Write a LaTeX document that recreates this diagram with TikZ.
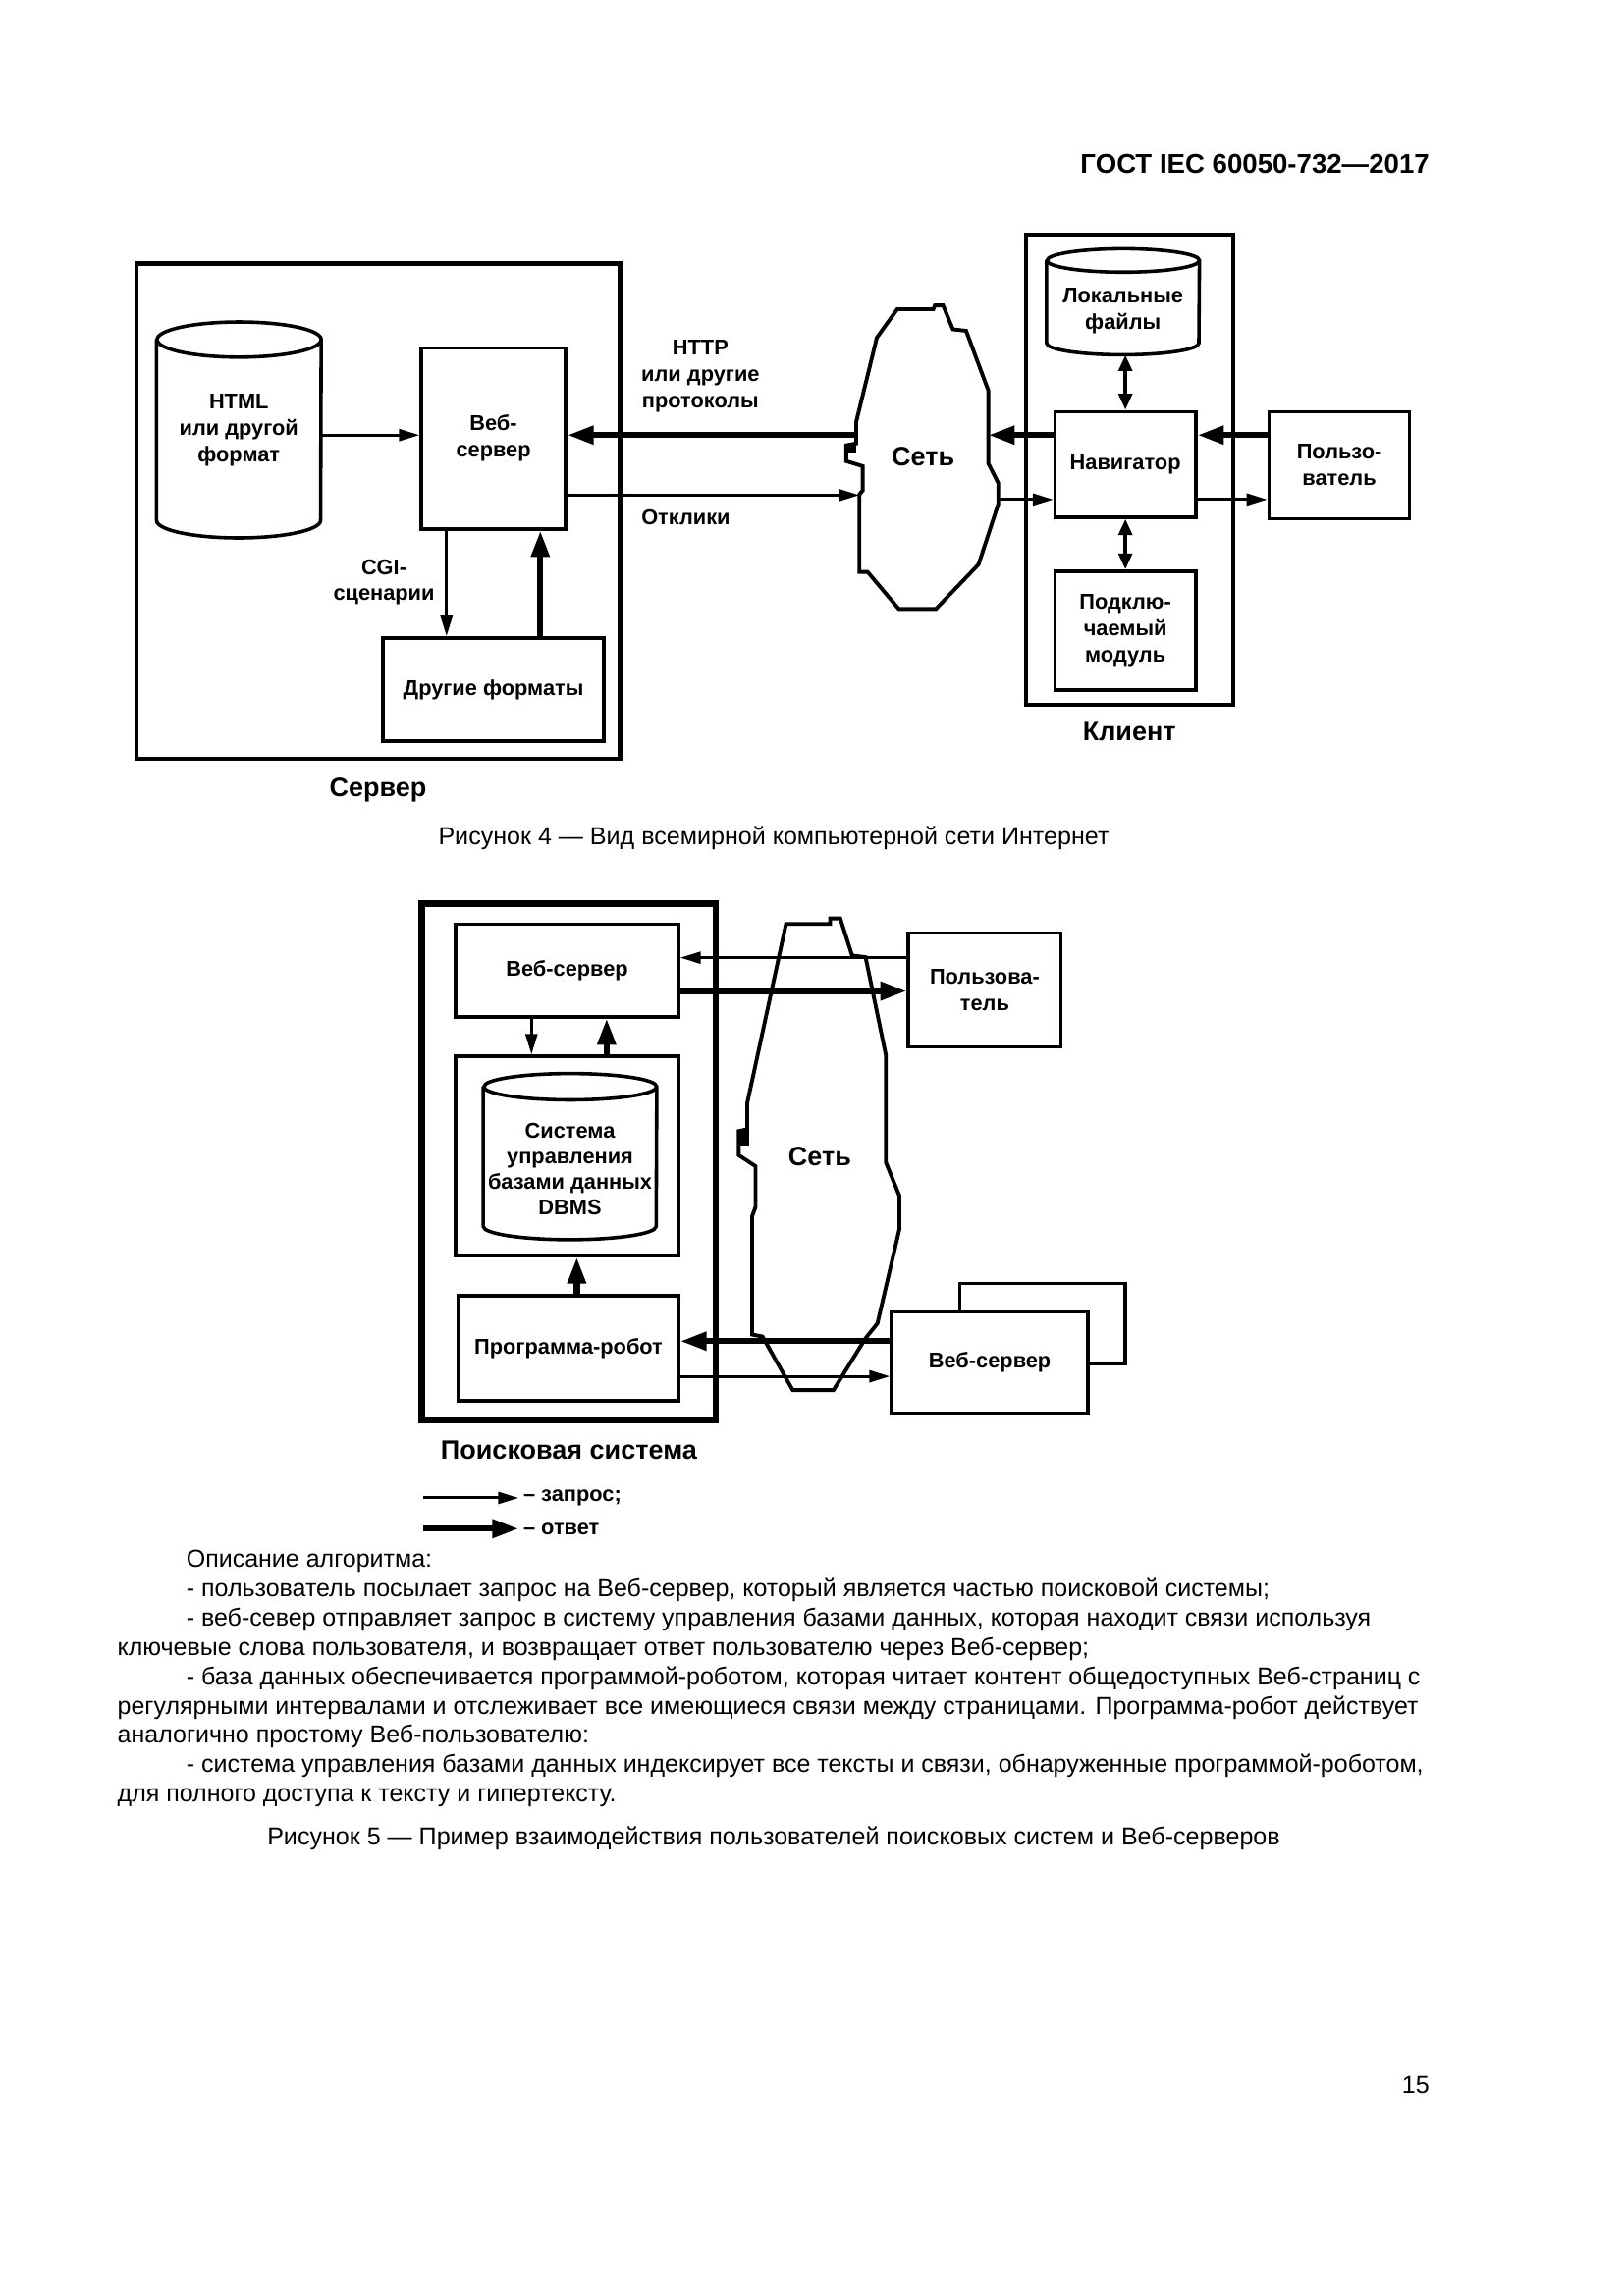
\documentclass[tikz,border=0pt]{standalone}
\usepackage{fontspec}
\setmainfont{Liberation Sans}
\usetikzlibrary{positioning,arrows.meta}

% cylinder outline round an empty node
\newcommand{\dbcyl}[3]{%
  \draw[cyl] ([yshift=-#3]#1.north west) -- ([yshift=#3]#1.south west)
    arc[start angle=180,end angle=360,x radius=#2,y radius=#3]
    -- ([yshift=-#3]#1.north east)
    arc[start angle=0,end angle=360,x radius=#2,y radius=#3];}

\begin{document}
\begin{tikzpicture}[x=1pt,y=-1pt]

    \tikzstyle{box}=[draw, line width=2.4pt, inner sep=0pt, align=center, font=\fontsize{14.6}{18}\selectfont\bfseries]
    \tikzstyle{cyl}=[line width=2.4pt]
    \tikzstyle{big}=[font=\fontsize{18.1}{22}\selectfont\bfseries]
    \tikzstyle{lbl}=[align=center, font=\fontsize{14.6}{18}\selectfont\bfseries]
    \tikzstyle{txt}=[anchor=base west, inner sep=0pt, font=\fontsize{16.75}{20}\selectfont]
    \tikzstyle{captxt}=[font=\fontsize{16.8}{20}\selectfont]
    \tikzstyle{req}=[line width=2pt,-{Triangle[length=14pt,width=8pt]}]
    \tikzstyle{ans}=[line width=4.2pt,-{Triangle[length=18pt,width=12pt]}]
    \tikzstyle{both}=[line width=3pt,{Triangle[length=11pt,width=9pt]}-{Triangle[length=11pt,width=9pt]}]
    \tikzstyle{net}=[line width=2.6pt]

    \path[fill=white] (0,0) rectangle (1108.25,1567.3);
    \useasboundingbox (0,0) rectangle (1108.25,1567.3);

    \node (gost) at (979,112)[anchor=east, font=\fontsize{18.5}{22}\selectfont\bfseries]{ГОСТ IEC 60050-732—2017};

    % Figure 4: server
    \node (srv) at (258,349)[draw, line width=3pt, minimum width=330pt, minimum height=338pt]{};
    \node (srvlbl) [below=8pt of srv, big]{Сервер};
    \node (html) at (163,293.5)[lbl, minimum width=112pt, minimum height=147pt]{HTML\\или другой\\формат};
    \dbcyl{html}{56pt}{12pt}
    \node (web) at (336.75,299.25)[box, minimum width=98.5pt, minimum height=123.5pt]{Веб-\\сервер};
    \node (other) at (336.75,470.75)[box, minimum width=150.5pt, minimum height=70.5pt]{Другие форматы};
    \node (cgi) at (262,397.5)[lbl]{CGI-\\сценарии};

    \coordinate (r1) at ([yshift=-3.5pt]html.east);
    \draw[req] (r1) -- (r1 -| web.west);
    \coordinate (cgi1) at ([xshift=-32pt]web.south);
    \draw[req] (cgi1) -- (cgi1 |- other.north);
    \coordinate (cgi2) at ([xshift=32pt]other.north);
    \draw[ans] (cgi2) -- (cgi2 |- web.south);

    % network
    \draw[net] (612.3,211.1) -- (636.9,211.1) -- (638,208.5) -- (643.6,208.5) -- (650.3,224.8)
      -- (659.3,225.8) -- (674.5,266.6) -- (674.5,316.4) -- (681.3,329.8) -- (681.3,344)
      -- (667.8,385.3) -- (638.7,415.7) -- (613.4,415.7) -- (592.1,390.4) -- (586.5,390.4)
      -- (586.5,337.5) -- (588.7,334.9) -- (588.7,318.2) -- (577.5,314.8) -- (577.5,304)
      -- (584.3,302.7) -- (584.3,288) -- (598.4,230.5) -- cycle;
    \fill (578,303) rectangle (584.5,309);
    \node (net1) at (630,311.7)[big]{Сеть};
    \node (http) at (478,257)[lbl]{HTTP\\или другие\\протоколы};
    \node (resp) at (468,353)[lbl]{Отклики};

    \coordinate (net1a) at (584.3,297);
    \draw[ans] (net1a) -- (net1a -| web.east);
    \coordinate (net1b) at (586.5,338);
    \draw[req] (net1b -| web.east) -- (net1b);

    % client
    \node (client) at (770.75,320.5)[draw, line width=2.6pt, minimum width=141.5pt, minimum height=321pt]{};
    \node (clientlbl) [below=7.5pt of client, big]{Клиент};
    \node (local) at (766.35,206)[minimum width=104pt, minimum height=72pt]{};
    \dbcyl{local}{52pt}{8pt}
    \node (localtxt) at ([yshift=-6pt]local.center)[lbl]{Локальные\\файлы};
    \node (nav) at (768,317)[box, minimum width=96pt, minimum height=72pt]{Навигатор};
    \node (plug) at (768,430.5)[box, minimum width=96pt, minimum height=81pt]{Подклю-\\чаемый\\модуль};
    \node (user1) at (914,317.5)[box, minimum width=96pt, minimum height=73pt]{Пользо-\\ватель};

    \draw[both] (nav.north |- local.south) -- (nav.north);
    \draw[both] (nav.south) -- (plug.north);
    \coordinate (net1c) at (674.5,297);
    \draw[ans] (net1c -| nav.west) -- (net1c);
    \coordinate (net1d) at (681.3,341);
    \draw[req] (net1d) -- (net1d -| nav.west);
    \draw[ans] (net1c -| user1.west) -- (net1c -| nav.east);
    \draw[req] (net1d -| nav.east) -- (net1d -| user1.west);

    \node (cap4) at (528,572)[captxt]{Рисунок 4 — Вид всемирной компьютерной сети Интернет};

    % Figure 5: search system
    \node (search) at (388.25,793.25)[draw, line width=4.5pt, minimum width=200.5pt, minimum height=352.5pt]{};
    \node (searchlbl) [below=8pt of search, big]{Поисковая система};
    \node (web2) at (387,662.5)[box, minimum width=152pt, minimum height=63pt]{Веб-сервер};
    \node (dbms) at (387,789)[draw, line width=2.4pt, minimum width=152pt, minimum height=136pt]{};
    \node (dbbody) at (389,789.5)[minimum width=118pt, minimum height=113pt]{};
    \dbcyl{dbbody}{59pt}{9pt}
    \node (dbtxt) at ([yshift=-8.5pt]dbbody.center)[lbl, font=\fontsize{14.6}{17.5}\selectfont\bfseries]{Система\\управления\\базами данных\\DBMS};
    \node (robot) at (388,920.25)[box, minimum width=150pt, minimum height=71.5pt]{Программа-робот};

    \coordinate (s1) at ([xshift=-24.3pt]web2.south);
    \draw[req] (s1) -- (s1 |- dbms.north);
    \coordinate (s2) at ([xshift=27pt]dbms.north);
    \draw[ans] (s2) -- (s2 |- web2.south);
    \coordinate (s3) at ([xshift=5.6pt]robot.north);
    \draw[ans] (s3) -- (s3 |- dbms.south);

    % network
    \draw[net] (536.4,630.7) -- (566.5,630.7) -- (566.5,626.9) -- (573.4,626.9) -- (581.5,652.2)
      -- (590.7,653.4) -- (604.6,720.4) -- (604.6,793.6) -- (613.8,816.3) -- (613.8,839)
      -- (598.8,903.4) -- (590.7,913.5) -- (568.8,948.9) -- (541,948.9) -- (520.3,912.3)
      -- (513.3,911) -- (513.3,830.2) -- (515.6,823.9) -- (515.6,796.1) -- (504.1,788.5)
      -- (504.1,772.1) -- (509.9,770.9) -- (509.9,753.2) -- cycle;
    \fill (504,772) rectangle (511,782);
    \node (net2) at (559.5,789.8)[big]{Сеть};

    \node (user2) at (672,675.75)[box, minimum width=104pt, minimum height=77.5pt]{Пользова-\\тель};
    \node (ext2) at (711.5,903.5)[draw, fill=white, line width=2.4pt, minimum width=113pt, minimum height=55pt]{};
    \node (ext) at (675.5,930)[box, fill=white, minimum width=134pt, minimum height=69pt]{Веб-сервер};

    \coordinate (q1) at ([yshift=22pt]user2.west);
    \draw[req] (q1) -- (q1 -| web2.east);
    \coordinate (a1) at ([yshift=-0.75pt]user2.west);
    \draw[ans] (a1 -| web2.east) -- (a1);
    \coordinate (a2) at ([yshift=14.5pt]ext.west);
    \draw[ans] (a2) -- (a2 -| robot.east);
    \coordinate (q2) at ([yshift=-9.5pt]ext.west);
    \draw[req] (q2 -| robot.east) -- (q2);

    % legend
    \node (reqtxt) at (357,1022.5)[anchor=west, inner sep=0pt, lbl]{– запрос;};
    \coordinate (reqfrom) at (289,1022.5);
    \draw[req] (reqfrom) -- ([xshift=-3pt]reqtxt.west);
    \node (anstxt) at (357,1043.5)[anchor=west, inner sep=0pt, lbl]{– ответ};
    \coordinate (ansfrom) at (289,1043.5);
    \draw[ans] (ansfrom) -- ([xshift=-3pt]anstxt.west);

    % description
    \node (p1) at (127,1070)[txt]{Описание алгоритма:};
    \node (p2) at (127,1090)[txt]{- пользователь посылает запрос на Веб-сервер, который является частью поисковой системы;};
    \node (p3) at (127,1110)[txt]{- веб-север отправляет запрос в систему управления базами данных, которая находит связи используя};
    \node (p4) at (80,1130)[txt]{ключевые слова пользователя, и возвращает ответ пользователю через Веб-сервер;};
    \node (p5) at (127,1150)[txt]{- база данных обеспечивается программой-роботом, которая читает контент общедоступных Веб-страниц с};
    \node (p6) at (80,1170)[txt]{регулярными интервалами и отслеживает все имеющиеся связи между страницами. Программа-робот действует};
    \node (p7) at (80,1190)[txt]{аналогично простому Веб-пользователю:};
    \node (p8) at (127,1210)[txt]{- система управления базами данных индексирует все тексты и связи, обнаруженные программой-роботом,};
    \node (p9) at (80,1230)[txt]{для полного доступа к тексту и гипертексту.};

    \node (cap5) at (528,1255)[captxt]{Рисунок 5 — Пример взаимодействия пользователей поисковых систем и Веб-серверов};
    \node (page) at (979,1423)[anchor=east, captxt]{15};

\end{tikzpicture}
\end{document}
